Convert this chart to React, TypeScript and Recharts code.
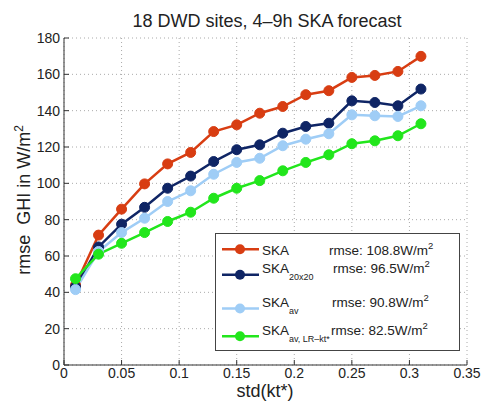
import React from "react";
import { LineChart, Line, XAxis, YAxis, CartesianGrid, Legend } from "recharts";

// x positions: std(kt*) bins
const stdKt = [0.01, 0.03, 0.05, 0.07, 0.09, 0.11, 0.13, 0.15, 0.17, 0.19, 0.21, 0.23, 0.25, 0.27, 0.29, 0.31];

// rmse GHI (W/m2) per bin
const ska = [44, 71.5, 85.8, 99.7, 110.7, 117, 128.5, 132.2, 138.6, 142.3, 148.8, 151, 158.3, 159.4, 161.6, 169.9];
const ska20x20 = [43, 65, 77.5, 86.8, 97.3, 104, 112, 118.5, 121.2, 127.6, 131.3, 133.1, 145.4, 144.5, 142.7, 151.9];
const skaAv = [41.5, 62.5, 72.9, 80.8, 90, 95.9, 105, 111.5, 113.8, 120.7, 124.3, 127.3, 137.7, 137.2, 136.8, 142.7];
const skaAvLr = [47.5, 61, 67, 72.9, 79, 84.1, 91.8, 97.3, 101.5, 106.9, 111.5, 115.7, 121.8, 123.4, 126.2, 132.8];

const xTicks = [0, 0.05, 0.1, 0.15, 0.2, 0.25, 0.3, 0.35];
const yTicks = [0, 20, 40, 60, 80, 100, 120, 140, 160, 180];

const seriesNames = ["SKA", "SKA", "SKA", "SKA"];
const seriesSubs = ["", "20x20", "av", "av, LR\u2013kt*"];
const rmseValues = ["108.8", "96.5", "90.8", "82.5"];

const series = [
  { key: "ska", values: ska, color: "#d83d12" },
  { key: "ska20x20", values: ska20x20, color: "#0f2565" },
  { key: "skaAv", values: skaAv, color: "#9fcdf6" },
  { key: "skaAvLr", values: skaAvLr, color: "#22e61c" },
];

const data = stdKt.map((x, i) => {
  const row: Record<string, number> = { x };
  series.forEach((s) => (row[s.key] = s.values[i]));
  return row;
});

const FONT = '"Liberation Sans", Arial, Helvetica, sans-serif';
const AXIS = "#333";

// legend layout (relative to legend box)
const legendBaselines = [22.3, 40.3, 74, 101.7];
const legendRmseX = [114, 118, 117, 116];

const LegendBox = () => (
  <svg width={245} height={118} style={{ display: "block", fontFamily: FONT }}>
    <rect x={0.5} y={0.5} width={244} height={117} fill="#fff" stroke="#444" />
    {series.map((s, i) => {
      const base = legendBaselines[i];
      const lineY = seriesSubs[i] ? base + 1.5 : base - 6;
      return (
        <g key={s.key}>
          <line x1={7} x2={44} y1={lineY} y2={lineY} stroke={s.color} strokeWidth={2.5} />
          <circle cx={25} cy={lineY} r={5} fill={s.color} />
          <text x={47} y={base} fontSize={13.5} fill="#222">
            {seriesNames[i]}
            {seriesSubs[i] && (
              <tspan dy={7} fontSize={9}>
                {seriesSubs[i]}
              </tspan>
            )}
          </text>
          <text x={legendRmseX[i]} y={base} fontSize={13.5} fill="#222">
            {`rmse: ${rmseValues[i]}W/m`}
            <tspan dy={-6} fontSize={9.5}>
              2
            </tspan>
          </text>
        </g>
      );
    })}
  </svg>
);

export default function App() {
  return (
    <div
      style={{
        position: "absolute",
        left: 0,
        top: 0,
        width: 481,
        height: 401,
        background: "#fff",
        fontFamily: FONT,
      }}
    >
      <LineChart
        width={481}
        height={401}
        data={data}
        margin={{ top: 38, right: 14, left: 14, bottom: 6 }}
      >
        <CartesianGrid stroke="#aaa" strokeDasharray="1 3" />
        <XAxis
          dataKey="x"
          type="number"
          domain={[0, 0.35]}
          ticks={xTicks}
          interval={0}
          height={30}
          tickSize={-5}
          tickMargin={8}
          axisLine={{ stroke: AXIS }}
          tickLine={{ stroke: AXIS }}
          tick={{ fontSize: 14, fill: "#222" }}
        />
        <XAxis
          xAxisId="top"
          orientation="top"
          dataKey="x"
          type="number"
          domain={[0, 0.35]}
          ticks={xTicks}
          interval={0}
          height={0}
          tickSize={-5}
          axisLine={{ stroke: AXIS }}
          tickLine={{ stroke: AXIS }}
          tick={() => <g />}
        />
        <YAxis
          type="number"
          domain={[0, 180]}
          ticks={yTicks}
          interval={0}
          width={50}
          tickSize={-5}
          tickMargin={9}
          axisLine={{ stroke: AXIS }}
          tickLine={{ stroke: AXIS }}
          tick={{ fontSize: 14, fill: "#222" }}
        />
        <YAxis
          yAxisId="right"
          orientation="right"
          type="number"
          domain={[0, 180]}
          ticks={yTicks}
          interval={0}
          width={0}
          tickSize={-5}
          axisLine={{ stroke: AXIS }}
          tickLine={{ stroke: AXIS }}
          tick={() => <g />}
        />
        {series.map((s) => (
          <Line
            key={s.key}
            dataKey={s.key}
            stroke={s.color}
            strokeWidth={2.5}
            dot={{ r: 5, fill: s.color, stroke: s.color, strokeWidth: 1 }}
            isAnimationActive={false}
          />
        ))}
        <Legend
          layout="vertical"
          verticalAlign="middle"
          align="center"
          wrapperStyle={{ left: 215, top: 233, width: 245, height: 118 }}
          content={() => <LegendBox />}
        />
      </LineChart>
      <svg
        width={481}
        height={401}
        style={{ position: "absolute", left: 0, top: 0, pointerEvents: "none", fontFamily: FONT }}
      >
        <text x={267} y={26.5} fontSize={18} textAnchor="middle" fill="#222">
          18 DWD sites, 4–9h SKA forecast
        </text>
        <text x={265} y={397} fontSize={18} textAnchor="middle" fill="#222">
          std(kt*)
        </text>
        <text transform="translate(30,200) rotate(-90)" fontSize={18} textAnchor="middle" fill="#222">
          {"rmse\u00a0\u00a0GHI in W/m"}
          <tspan dy={-7} fontSize={12}>
            2
          </tspan>
        </text>
      </svg>
    </div>
  );
}
